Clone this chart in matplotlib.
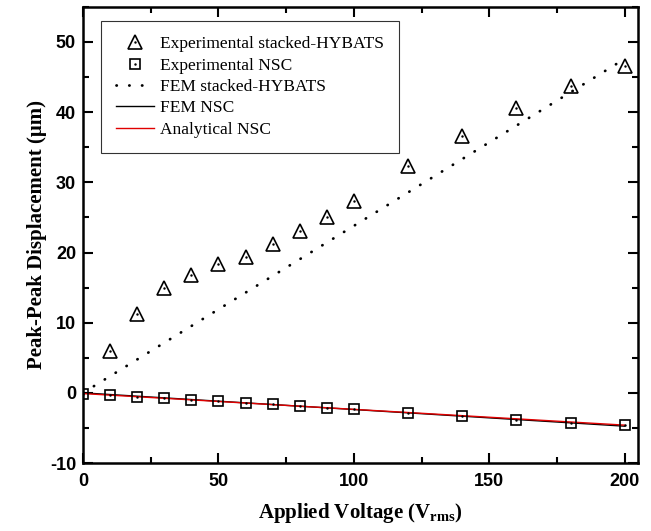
import matplotlib
matplotlib.use("Agg")
import matplotlib.pyplot as plt
from matplotlib.ticker import MultipleLocator

plt.rcParams['axes.unicode_minus'] = False

# Data
v_exp = [10, 20, 30, 40, 50, 60, 70, 80, 90, 100, 120, 140, 160, 180, 200]
exp_stacked = [5.9, 11.3, 15.0, 16.8, 18.3, 19.4, 21.2, 23.0, 25.0, 27.3, 32.3, 36.6, 40.6, 43.7, 46.6]

v_nsc = [0, 10, 20, 30, 40, 50, 60, 70, 80, 90, 100, 120, 140, 160, 180, 200]
exp_nsc = [-0.14, -0.37, -0.56, -0.8, -0.98, -1.17, -1.4, -1.65, -1.88, -2.2, -2.35, -2.87, -3.35, -3.8, -4.24, -4.6]

v_fem = [0, 200]
fem_stacked = [0.0, 47.6]
fem_nsc = [0.0, -4.75]
v_ana = [0, 200]
ana_nsc = [-0.1, -4.6]

serif = ['Liberation Serif', 'DejaVu Serif']
sans = ['Liberation Sans', 'DejaVu Sans']

fig = plt.figure(figsize=(6.51, 5.31), dpi=100)
ax = fig.add_axes([0.1275, 0.128, 0.853, 0.859])

l_fem_st, = ax.plot(v_fem, fem_stacked, color='black', lw=2.0,
                    linestyle=(0, (0.1, 4.5)), dash_capstyle='round',
                    label='FEM stacked-HYBATS')
l_fem_nsc, = ax.plot(v_fem, fem_nsc, color='black', lw=1.0, label='FEM NSC')
l_ana, = ax.plot(v_ana, ana_nsc, color='#e00000', lw=1.0, label='Analytical NSC')

m_tri, = ax.plot(v_exp, exp_stacked, linestyle='none', marker='^', ms=9.5,
                 mfc='none', mec='black', mew=1.2)
d_tri, = ax.plot(v_exp, exp_stacked, linestyle='none', marker='.', ms=1.5,
                 color='black')
m_sq, = ax.plot(v_nsc, exp_nsc, linestyle='none', marker='s', ms=7.5,
                mfc='none', mec='black', mew=1.2)
d_sq, = ax.plot(v_nsc, exp_nsc, linestyle='none', marker='.', ms=1.5,
                color='black')

ax.set_xlim(0, 205)
ax.set_ylim(-10, 55)
ax.xaxis.set_major_locator(MultipleLocator(50))
ax.xaxis.set_minor_locator(MultipleLocator(25))
ax.yaxis.set_major_locator(MultipleLocator(10))
ax.yaxis.set_minor_locator(MultipleLocator(5))
ax.tick_params(which='both', direction='in', top=True, right=True, width=1.5)
ax.tick_params(which='major', length=7)
ax.tick_params(which='minor', length=4.5)
for lab in ax.get_xticklabels() + ax.get_yticklabels():
    lab.set_family(sans)
    lab.set_fontweight('bold')
    lab.set_fontsize(13)
ax.tick_params(axis='x', pad=7)
ax.tick_params(axis='y', pad=5)
for s in ax.spines.values():
    s.set_linewidth(1.8)

ax.set_xlabel('Applied Voltage (V$_{\\mathregular{rms}}$)', family=serif,
              fontweight='bold', fontsize=15, labelpad=8)
ax.set_ylabel('Peak-Peak Displacement (\u03bcm)', family=serif,
              fontweight='bold', fontsize=15, labelpad=2)

leg = ax.legend([(m_tri, d_tri), (m_sq, d_sq), l_fem_st, l_fem_nsc, l_ana],
                ['Experimental stacked-HYBATS', 'Experimental NSC',
                 'FEM stacked-HYBATS', 'FEM NSC', 'Analytical NSC'],
                loc='upper left', bbox_to_anchor=(0.032, 0.968),
                prop={'family': serif, 'size': 12.5}, frameon=True,
                fancybox=False, edgecolor='black', handlelength=2.2,
                labelspacing=0.3, borderpad=0.85, handletextpad=0.35,
                borderaxespad=0)
leg.get_frame().set_linewidth(0.8)

fig.savefig('out.png', dpi=100)
